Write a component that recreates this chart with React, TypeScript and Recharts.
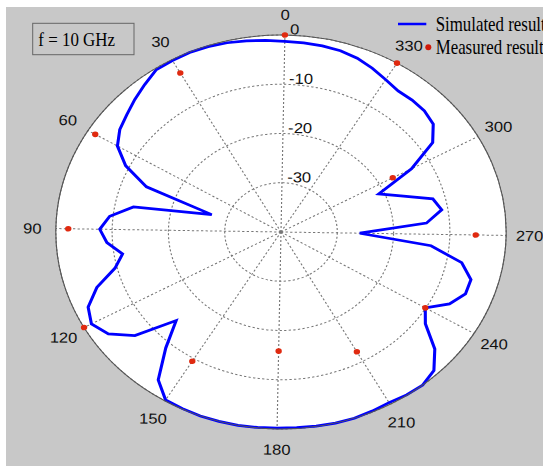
import React from 'react';
import { RadarChart, PolarGrid, PolarAngleAxis, PolarRadiusAxis, Radar } from 'recharts';

// Simulated radiation pattern, sampled every 5 degrees (dB)
const simAngles = [
  0, 5, 10, 15, 20, 25, 30, 35, 40, 45, 50, 55,
  60, 65, 70, 75, 80, 85, 90, 95, 100, 105, 110, 115,
  120, 125, 130, 135, 140, 145, 150, 155, 160, 165, 170, 175,
  180, 185, 190, 195, 200, 205, 210, 215, 220, 225, 230, 235,
  240, 245, 250, 255, 260, 265, 270, 275, 280, 285, 290, 295,
  300, 305, 310, 315, 320, 325, 330, 335, 340, 345, 350, 355,
];
const simulatedDb = [
  -1.3, -1.0, -0.7, -0.4, -0.2, -0.1, -0.2, -0.3, -1.5, -2.6, -3.7, -4.6,
  -6.1, -9.3, -14.4, -27.2, -13.3, -9.4, -7.8, -9.0, -11.5, -9.6, -5.4, -2.5,
  -1.5, -3.0, -6.6, -14.1, -8.8, -2.9, -0.2, -0.1, 0, 0, 0, -0.1,
  -0.2, -0.2, -0.1, 0, 0, -0.2, -0.4, -0.1, 0, -0.9, -3.8, -8.3,
  -10.1, -6.7, -4.9, -4.9, -7.3, -13.2, -26.0, -14.1, -11.1, -12.2, -17.5, -21.0,
  -13.5, -7.5, -5.2, -4.6, -4.5, -4.6, -3.9, -3.0, -2.2, -1.7, -1.5, -1.4,
];

// Measured points every 30 degrees (dB)
const measuredAngles = [0, 30, 60, 90, 120, 150, 180, 210, 240, 270, 300, 330];
const measuredDb = [0, -3.1, -1.5, -2.2, 0, -9.4, -15.8, -12.2, -10.1, -5.4, -17.3, 0];

const angleTicks = [0, 30, 60, 90, 120, 150, 180, 210, 240, 270, 300, 330];
const angleDomain = [0, 360];
const radiusDomain = [-40, 0];

const simData = simAngles.map((angle, i) => ({ angle, value: simulatedDb[i] }));
const measData = measuredAngles.map((angle, i) => ({ angle, value: measuredDb[i] }));

const SIZE = 480;
const CX = 240;
const CY = 240;
const R = 197;

const sans = "'Liberation Sans', Arial, sans-serif";
const serif = "'Liberation Serif', 'Times New Roman', serif";

const AngleTick = (props: any) => {
  const { x, y, payload } = props;
  if (payload.value >= 360) return <g />;
  return (
    <text x={x} y={y} dy="0.36em" textAnchor="middle" fontFamily={sans} fontSize={14.5} fill="#111">
      {payload.value}
    </text>
  );
};

const RadiusTick = (props: any) => {
  const { x, y, payload } = props;
  if (payload.value <= -40) return <g />;
  return (
    <text x={x + 4.5} y={y - 6} dy="0.36em" textAnchor="start" fontFamily={sans} fontSize={14.5} fill="#111">
      {payload.value}
    </text>
  );
};

const chartProps = {
  width: SIZE,
  height: SIZE,
  cx: CX,
  cy: CY,
  outerRadius: R,
  startAngle: 90,
  endAngle: 450,
  margin: { top: 0, right: 0, bottom: 0, left: 0 },
};

export default function App() {
  return (
    <div
      style={{
        position: 'absolute',
        left: 6,
        top: 7,
        width: 537,
        height: 459,
        background: '#c8c8c8',
        overflow: 'hidden',
      }}
    >
      <div
        style={{
          position: 'absolute',
          left: 35,
          top: -14.7,
          width: SIZE,
          height: SIZE,
          transform: 'scaleX(1.143) rotate(1deg)',
          transformOrigin: `${CX}px ${CY}px`,
        }}
      >
        <div
          style={{
            position: 'absolute',
            left: CX - R,
            top: CY - R,
            width: 2 * R,
            height: 2 * R,
            borderRadius: '50%',
            background: '#ffffff',
          }}
        />
        <div style={{ position: 'absolute', left: 0, top: 0 }}>
          <RadarChart {...chartProps} data={simData}>
            <PolarGrid gridType="circle" stroke="#777" strokeDasharray="2 2" strokeWidth={1} />
            <PolarAngleAxis
              dataKey="angle"
              type="number"
              domain={angleDomain}
              ticks={angleTicks}
              tickCount={13}
              tick={AngleTick}
              tickLine={false}
              tickSize={20.5}
              axisLineType="circle"
              axisLine={{ stroke: '#555', strokeWidth: 1 }}
            />
            <PolarRadiusAxis
              angle={90}
              type="number"
              domain={radiusDomain}
              tickCount={5}
              axisLine={false}
              tick={RadiusTick}
            />
            <Radar
              dataKey="value"
              stroke="#0000ff"
              strokeWidth={2.7}
              fill="none"
              fillOpacity={0}
              dot={false}
              isAnimationActive={false}
            />
          </RadarChart>
        </div>
        <div style={{ position: 'absolute', left: 0, top: 0 }}>
          <RadarChart {...chartProps} data={measData}>
            <PolarAngleAxis
              dataKey="angle"
              type="number"
              domain={angleDomain}
              ticks={angleTicks}
              tick={false}
              tickLine={false}
              axisLine={false}
            />
            <PolarRadiusAxis angle={90} type="number" domain={radiusDomain} tick={false} axisLine={false} />
            <Radar
              dataKey="value"
              stroke="none"
              fill="none"
              fillOpacity={0}
              dot={{ r: 2.8, fill: '#e02a10', stroke: 'none', fillOpacity: 1 }}
              isAnimationActive={false}
            />
          </RadarChart>
        </div>
      </div>

      <svg
        width={537}
        height={459}
        style={{ position: 'absolute', left: 0, top: 0, pointerEvents: 'none' }}
      >
        <rect x={26.7} y={16.3} width={101.3} height={31.4} fill="none" stroke="#666" strokeWidth={1} />
        <text x={32.3} y={39} fontFamily={serif} fontSize={19.5} fill="#000" textLength={76.7} lengthAdjust="spacingAndGlyphs">
          f = 10 GHz
        </text>
        <line x1={392} y1={17} x2={420.3} y2={17} stroke="#0000ff" strokeWidth={2.5} />
        <text x={429.7} y={23.7} fontFamily={serif} fontSize={21} fill="#000" textLength={110} lengthAdjust="spacingAndGlyphs">
          Simulated result
        </text>
        <circle cx={422.3} cy={40.3} r={3} fill="#d01a0a" />
        <text x={429.7} y={46.5} fontFamily={serif} fontSize={21} fill="#000" textLength={108} lengthAdjust="spacingAndGlyphs">
          Measured result
        </text>
      </svg>
    </div>
  );
}
